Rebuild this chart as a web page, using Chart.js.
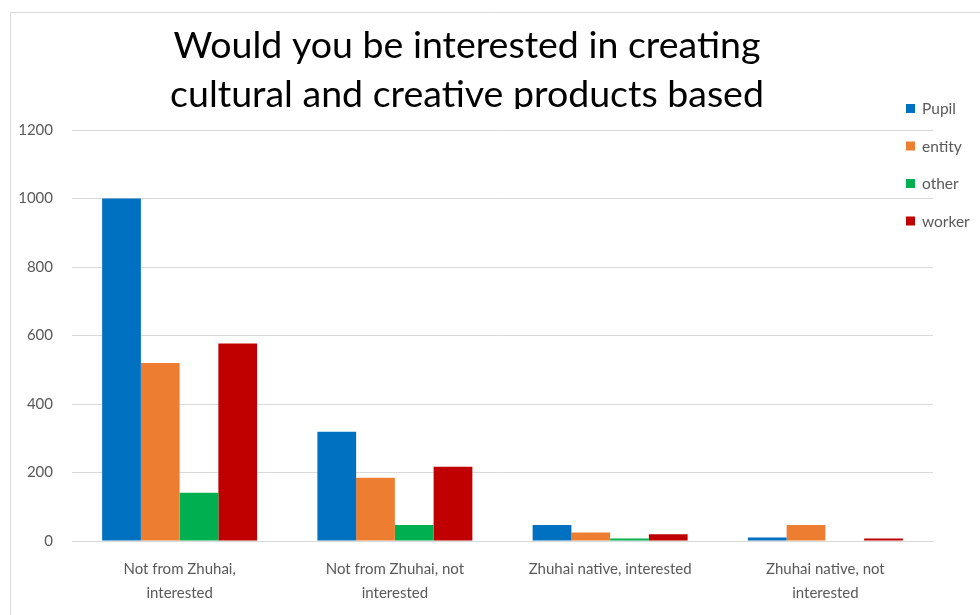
<!DOCTYPE html>
<html>
<head>
<meta charset="utf-8">
<script src="https://cdn.jsdelivr.net/npm/chart.js@4/dist/chart.umd.min.js"></script>
<style>
html,body{margin:0;padding:0;background:#fff;}
#wrap{width:980px;height:615px;position:relative;}
</style>
</head>
<body>
<div id="wrap"><canvas id="c" width="980" height="615"></canvas></div>
<script>
const titleLines = ["Would you be interested in creating", "cultural and creative products based"];
const categories = [
  ["Not from Zhuhai,", "interested"],
  ["Not from Zhuhai, not", "interested"],
  "Zhuhai native, interested",
  ["Zhuhai native, not", "interested"]
];
const seriesNames = ["Pupil", "entity", "other", "worker"];
const seriesColors = ["#0070C0", "#ED7D31", "#00B050", "#C00000"];
const pupilValues  = [1000, 319, 47, 10];
const entityValues = [520, 185, 25, 47];
const otherValues  = [141, 47, 7, 0];
const workerValues = [577, 217, 20, 7];
const yTicks = [0, 200, 400, 600, 800, 1000, 1200];

const allValues = [pupilValues, entityValues, otherValues, workerValues];
const textFont = "Lato, 'Open Sans', sans-serif";

const framePlugin = {
  id: 'frame',
  beforeDraw(chart) {
    const ctx = chart.ctx;
    ctx.save();
    ctx.fillStyle = '#fff';
    ctx.fillRect(0, 0, chart.width, chart.height);
    ctx.strokeStyle = '#D9D9D9';
    ctx.lineWidth = 1;
    ctx.beginPath();
    ctx.moveTo(10.5, chart.height + 5);
    ctx.lineTo(10.5, 12.5);
    ctx.lineTo(chart.width + 5, 12.5);
    ctx.stroke();
    ctx.restore();
  }
};

const titlePlugin = {
  id: 'clipTitle',
  afterDraw(chart) {
    const ctx = chart.ctx;
    ctx.save();
    ctx.beginPath();
    ctx.rect(0, 0, chart.width, 109);
    ctx.clip();
    ctx.fillStyle = '#000';
    ctx.font = "37.5px " + textFont;
    ctx.textAlign = 'center';
    ctx.textBaseline = 'alphabetic';
    titleLines.forEach((t, i) => ctx.fillText(t, 467, 58 + i * 49));
    ctx.restore();
  }
};

const legendPlugin = {
  id: 'sideLegend',
  afterDraw(chart) {
    const ctx = chart.ctx;
    ctx.save();
    ctx.font = "15.5px " + textFont;
    ctx.textBaseline = 'middle';
    ctx.textAlign = 'left';
    chart.data.datasets.forEach((ds, i) => {
      const y = 109 + i * 37.5;
      ctx.fillStyle = ds.backgroundColor;
      ctx.fillRect(906, y - 5, 9, 9);
      ctx.fillStyle = '#595959';
      ctx.fillText(ds.label, 922, y);
    });
    ctx.restore();
  }
};

new Chart(document.getElementById('c'), {
  type: 'bar',
  data: {
    labels: categories,
    datasets: seriesNames.map((n, i) => ({
      label: n,
      data: allValues[i],
      backgroundColor: seriesColors[i],
      borderWidth: 0,
      categoryPercentage: 0.72,
      barPercentage: 1.0
    }))
  },
  options: {
    responsive: false,
    animation: false,
    events: [],
    layout: { padding: { top: 130, right: 47, left: 0, bottom: 0 } },
    plugins: {
      legend: { display: false },
      title: { display: false },
      tooltip: { enabled: false }
    },
    scales: {
      x: {
        grid: { display: false, drawTicks: false },
        border: { color: '#D9D9D9', width: 1 },
        ticks: {
          color: '#595959',
          font: { family: textFont, size: 15, lineHeight: 1.6 },
          padding: 16,
          maxRotation: 0,
          autoSkip: false
        },
        afterFit(axis) { axis.height = 74; }
      },
      y: {
        min: 0, max: 1200,
        afterBuildTicks(axis) { axis.ticks = yTicks.map(v => ({ value: v })); },
        grid: { color: '#D9D9D9', drawTicks: false },
        border: { display: false },
        ticks: {
          color: '#595959',
          font: { family: textFont, size: 15 },
          padding: 19,
          callback: (v) => String(v)
        },
        afterFit(axis) { axis.width = 72; }
      }
    }
  },
  plugins: [framePlugin, titlePlugin, legendPlugin]
});
</script>
</body>
</html>
